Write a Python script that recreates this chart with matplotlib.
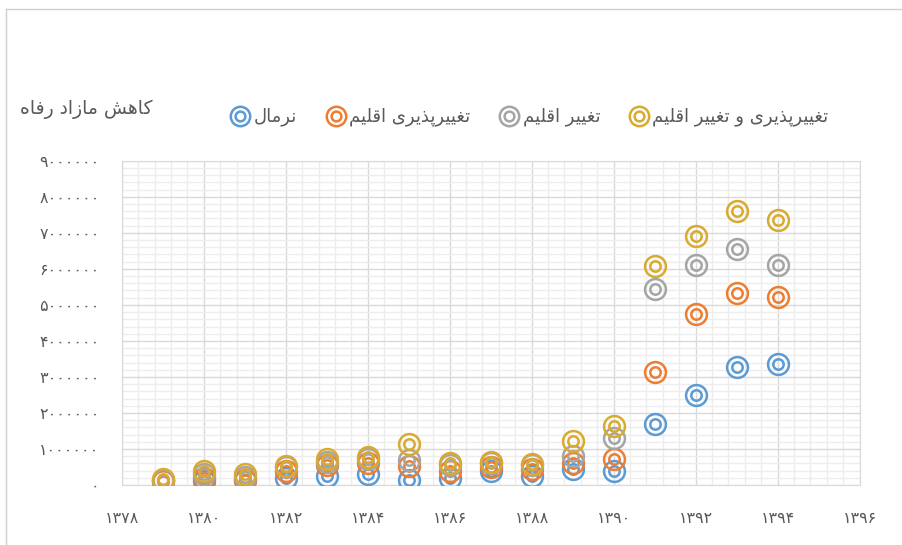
import matplotlib
matplotlib.use('Agg')
import matplotlib.pyplot as plt
from matplotlib.lines import Line2D
from matplotlib.legend_handler import HandlerTuple
from matplotlib.ticker import MultipleLocator, FuncFormatter

plt.rcParams['font.family'] = ['DejaVu Sans', 'Noto Sans']

# data
years = [1379, 1380, 1381, 1382, 1383, 1384, 1385, 1386,
         1387, 1388, 1389, 1390, 1391, 1392, 1393, 1394]
normal = [100000, 100000, 150000, 200000, 250000, 300000, 150000, 200000,
          400000, 250000, 450000, 400000, 1700000, 2500000, 3280000, 3360000]
variability = [100000, 200000, 150000, 400000, 550000, 600000, 520000, 400000,
               500000, 450000, 600000, 720000, 3140000, 4750000, 5330000, 5220000]
change = [150000, 300000, 220000, 500000, 650000, 720000, 700000, 550000,
          600000, 550000, 820000, 1300000, 5450000, 6100000, 6550000, 6100000]
both = [170000, 400000, 300000, 520000, 720000, 780000, 1150000, 600000,
        650000, 580000, 1220000, 1650000, 6080000, 6900000, 7600000, 7350000]

series_names = ['نرمال', 'تغییرپذیری اقلیم', 'تغییر اقلیم', 'تغییرپذیری و تغییر اقلیم']
series_vals = [normal, variability, change, both]
colors = ['#5B9BD5', '#ED7D31', '#A5A5A5', '#D9AA2E']
y_title = 'کاهش مازاد رفاه'

# minimal persian shaping (matplotlib has no bidi / joining)
forms = {
    'ا': ('\uFE8D', '\uFE8E', None, None),
    'پ': ('\uFB56', '\uFB57', '\uFB58', '\uFB59'),
    'ت': ('\uFE95', '\uFE96', '\uFE97', '\uFE98'),
    'د': ('\uFEA9', '\uFEAA', None, None),
    'ذ': ('\uFEAB', '\uFEAC', None, None),
    'ر': ('\uFEAD', '\uFEAE', None, None),
    'ز': ('\uFEAF', '\uFEB0', None, None),
    'ش': ('\uFEB5', '\uFEB6', '\uFEB7', '\uFEB8'),
    'غ': ('\uFECD', '\uFECE', '\uFECF', '\uFED0'),
    'ف': ('\uFED1', '\uFED2', '\uFED3', '\uFED4'),
    'ق': ('\uFED5', '\uFED6', '\uFED7', '\uFED8'),
    'ک': ('\uFB8E', '\uFB8F', '\uFB90', '\uFB91'),
    'ل': ('\uFEDD', '\uFEDE', '\uFEDF', '\uFEE0'),
    'م': ('\uFEE1', '\uFEE2', '\uFEE3', '\uFEE4'),
    'ن': ('\uFEE5', '\uFEE6', '\uFEE7', '\uFEE8'),
    'ه': ('\uFEE9', '\uFEEA', '\uFEEB', '\uFEEC'),
    'و': ('\uFEED', '\uFEEE', None, None),
    'ی': ('\uFBFC', '\uFBFD', '\uFBFE', '\uFBFF'),
}


def shape(text):
    out = []
    for i, ch in enumerate(text):
        if ch not in forms:
            out.append(ch)
            continue
        prev = text[i - 1] if i > 0 else ''
        nxt = text[i + 1] if i + 1 < len(text) else ''
        join_prev = prev in forms and forms[prev][2] is not None
        join_next = forms[ch][2] is not None and nxt in forms
        if join_prev and join_next:
            out.append(forms[ch][3])
        elif join_prev:
            out.append(forms[ch][1])
        elif join_next:
            out.append(forms[ch][2])
        else:
            out.append(forms[ch][0])
    return ''.join(out)[::-1]


def fa_digits(v, pos=None):
    s = str(int(round(v)))
    return ''.join('۰۱۲۳۴۵۶۷۸۹'[int(c)] if c.isdigit() else c for c in s)


fig = plt.figure(figsize=(9.02, 5.45), dpi=100)
ax = fig.add_axes([0.135, 0.110, 0.818, 0.595])

handles = []
for name, vals, c in zip(series_names, series_vals, colors):
    ax.plot(years, vals, linestyle='none', marker='o', markersize=15,
            mfc='none', mec=c, mew=1.8, zorder=3)
    ax.plot(years, vals, linestyle='none', marker='o', markersize=7.5,
            mfc='none', mec=c, mew=1.8, zorder=3)
    h1 = Line2D([], [], linestyle='none', marker='o', markersize=14,
                mfc='none', mec=c, mew=1.8)
    h2 = Line2D([], [], linestyle='none', marker='o', markersize=7,
                mfc='none', mec=c, mew=1.8)
    handles.append((h1, h2))

ax.set_xlim(1378, 1396)
ax.set_ylim(0, 9000000)
ax.xaxis.set_major_locator(MultipleLocator(2))
ax.xaxis.set_minor_locator(MultipleLocator(0.4))
ax.yaxis.set_major_locator(MultipleLocator(1000000))
ax.yaxis.set_minor_locator(MultipleLocator(200000))
ax.xaxis.set_major_formatter(FuncFormatter(fa_digits))
ax.yaxis.set_major_formatter(FuncFormatter(fa_digits))
ax.grid(True, which='major', color='#D9D9D9', linewidth=1.0, zorder=0)
ax.grid(True, which='minor', color='#EDEDED', linewidth=1.0, zorder=0)
ax.set_axisbelow(True)
ax.tick_params(which='both', length=0)
ax.tick_params(axis='x', pad=19, labelsize=11.5, colors='#595959')
ax.tick_params(axis='y', pad=16, labelsize=11.5, colors='#595959')
for sp in ax.spines.values():
    sp.set_color('#D9D9D9')

leg = fig.legend(handles, [shape(n) for n in series_names], ncol=4,
                 loc='center left', bbox_to_anchor=(0.237, 0.785),
                 frameon=False, fontsize=13, handlelength=1.1,
                 handletextpad=0.2, columnspacing=1.6, labelcolor='#595959',
                 handler_map={tuple: HandlerTuple(ndivide=1)})

fig.text(0.022, 0.8, shape(y_title), fontsize=13.5, color='#595959',
         ha='left', va='center')

# outer chart frame
fig.add_artist(Line2D([6 / 902, 1.0], [1 - 9 / 545, 1 - 9 / 545],
                      transform=fig.transFigure, color='#D0D0D0', linewidth=1))
fig.add_artist(Line2D([6 / 902, 6 / 902], [0, 1 - 9 / 545],
                      transform=fig.transFigure, color='#D0D0D0', linewidth=1))

fig.savefig('out.png', dpi=100)
